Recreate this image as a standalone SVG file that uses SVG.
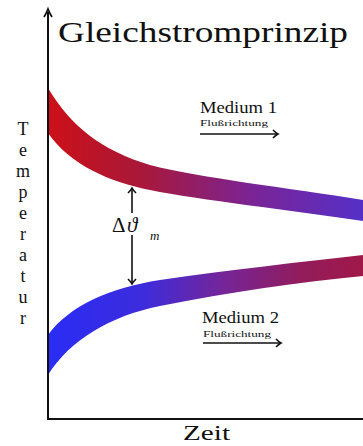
<svg xmlns="http://www.w3.org/2000/svg" width="363" height="446" viewBox="0 0 363 446">
<style>
.serif{font-family:"Liberation Serif","DejaVu Serif",serif;fill:#111}
.ax{stroke:#111;stroke-width:2;fill:none}
.fl{stroke:#111;stroke-width:1.6;fill:none}
</style>
<defs>
<linearGradient id="gRed" gradientUnits="userSpaceOnUse" x1="48" y1="0" x2="363" y2="0">
<stop offset="0" stop-color="#cc1018"/>
<stop offset="0.3" stop-color="#a8183a"/>
<stop offset="0.65" stop-color="#7a2496"/>
<stop offset="1" stop-color="#5530c8"/>
</linearGradient>
<linearGradient id="gBlue" gradientUnits="userSpaceOnUse" x1="48" y1="0" x2="363" y2="0">
<stop offset="0" stop-color="#2a2cf5"/>
<stop offset="0.3" stop-color="#3c2cdc"/>
<stop offset="0.55" stop-color="#74259a"/>
<stop offset="0.8" stop-color="#921c5c"/>
<stop offset="1" stop-color="#a01848"/>
</linearGradient>
<marker id="ah" viewBox="-6 -5 8 10" markerWidth="8" markerHeight="10" refX="0" refY="0" orient="auto" markerUnits="userSpaceOnUse">
<path d="M-5,-4 Q-2,-1 0,0 Q-2,1 -5,4" fill="none" stroke="#111" stroke-width="1.6"/>
</marker>
</defs>

<g id="band-medium1">
<path d="M48,88 C70,125 100,150 150,165 C200,178 290,188 363,200 L363,221 C290,210 200,200 150,190 C110,182 70,165 48,133 Z" fill="url(#gRed)"/>
</g>
<g id="band-medium2">
<path d="M48,335 C70,305 110,288 160,280 C230,270 300,262 363,255 L363,276 C300,282 230,292 160,306 C110,316 70,340 48,375 Z" fill="url(#gBlue)"/>
</g>

<g id="axes">
<line class="ax" x1="48" y1="12" x2="48" y2="420"/>
<line class="ax" x1="47" y1="419" x2="363" y2="419"/>
<path d="M44,17 Q46,14 48,9 Q50,14 52,17" fill="none" stroke="#111" stroke-width="1.8"/>
</g>

<g id="title">
<text class="serif" x="58" y="42" font-size="30" textLength="290" lengthAdjust="spacingAndGlyphs">Gleichstromprinzip</text>
</g>

<g id="y-label" class="serif" font-size="18" text-anchor="middle">
<text x="23" y="135">T</text>
<text x="23" y="156">e</text>
<text x="23" y="177">m</text>
<text x="23" y="198">p</text>
<text x="23" y="219">e</text>
<text x="23" y="240">r</text>
<text x="23" y="261">a</text>
<text x="23" y="282">t</text>
<text x="23" y="303">u</text>
<text x="23" y="324">r</text>
</g>

<g id="x-label">
<text class="serif" x="183" y="440" font-size="20" textLength="47" lengthAdjust="spacingAndGlyphs">Zeit</text>
</g>

<g id="medium1">
<text class="serif" x="200" y="113" font-size="17" textLength="77" lengthAdjust="spacingAndGlyphs">Medium 1</text>
<text class="serif" x="200" y="126" font-size="9" textLength="68" lengthAdjust="spacingAndGlyphs">Flußrichtung</text>
</g>
<g id="medium2">
<text class="serif" x="202" y="323" font-size="17" textLength="77" lengthAdjust="spacingAndGlyphs">Medium 2</text>
<text class="serif" x="203" y="337" font-size="9" textLength="68" lengthAdjust="spacingAndGlyphs">Flußrichtung</text>
</g>

<g id="delta-label">
<text class="serif" x="112" y="232" font-size="21">Δ</text>
<text class="serif" x="127" y="232" font-size="21" font-style="italic">ϑ</text>
<text class="serif" x="150" y="240" font-size="13" font-style="italic">m</text>
</g>

<g id="connectors">
<line class="fl" x1="200" y1="134" x2="278" y2="134" marker-end="url(#ah)"/>
<line class="fl" x1="203" y1="343" x2="281" y2="343" marker-end="url(#ah)"/>
<line class="fl" x1="132" y1="213" x2="132" y2="188" marker-end="url(#ah)"/>
<line class="fl" x1="132" y1="235" x2="132" y2="284" marker-end="url(#ah)"/>
</g>
</svg>
